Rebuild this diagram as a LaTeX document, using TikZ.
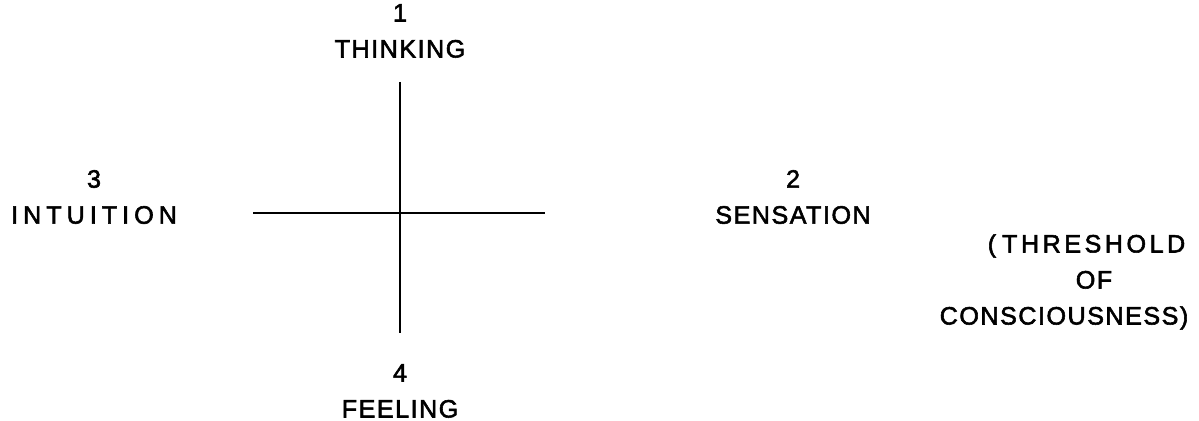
\documentclass[tikz,border=0pt]{standalone}
\usepackage{fontspec}
\setmainfont{Liberation Sans}[LetterSpace=6, FakeBold=2.2]
\usetikzlibrary{positioning}
\tikzset{
  fnlabel/.style={
    align=center, inner sep=0pt,
    font=\fontsize{14.3}{20.5}\selectfont
  },
  axis line/.style={line width=1.1pt, black}
}
\begin{document}
\begin{tikzpicture}[x=0.02cm, y=-0.02cm]
  \useasboundingbox (0,0) rectangle (1199,421);
  % the four functions
  \node[fnlabel] (thinking) at (400,31) {1\\THINKING};
  \node[fnlabel] (intuition) at (94,197)
    {3\\{\addfontfeatures{LetterSpace=20}INTUITION}};
  \node[fnlabel] (sensation) at (793,197) {2\\SENSATION};
  \node[fnlabel] (feeling) at (400,391) {4\\FEELING};
  \node[fnlabel] (threshold) at (1064,282)
    {\hspace*{0.9cm}{\addfontfeatures{LetterSpace=14}(\hspace{0.12cm}THRESHOLD}\\
     \hspace*{1.2cm}OF\\CONSCIOUSNESS)};
  % the cross
  \coordinate (top) at (400,82);
  \coordinate (bottom) at (400,333);
  \coordinate (left) at (253,213);
  \coordinate (right) at (545,213);
  \draw[axis line] (top) -- (bottom);
  \draw[axis line] (left) -- (right);
\end{tikzpicture}
\end{document}
